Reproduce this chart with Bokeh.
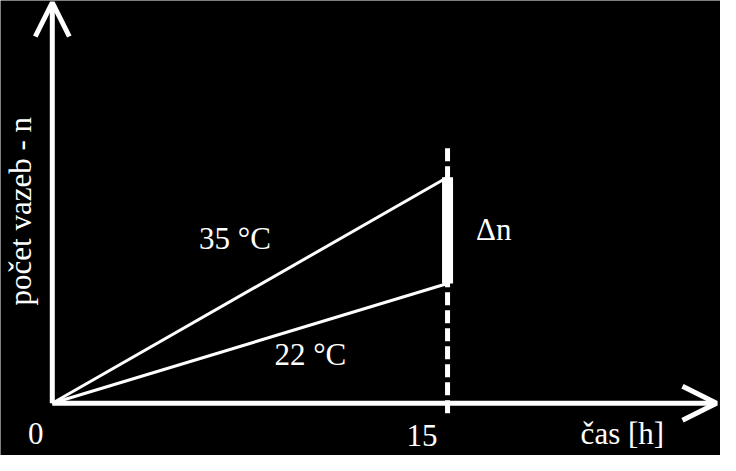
# -*- coding: utf-8 -*-

import numpy as np
from bokeh.plotting import figure
from bokeh.models import Range1d, Arrow, OpenHead
from bokeh.core.properties import value
from bokeh.embed import file_html
from bokeh.resources import INLINE

# data (n in arbitrary units)
time_h = [0, 15]
n_35 = [0, 10.0]
n_22 = [0, 5.3]
t_mark = 15
series_labels = ["35 °C", "22 °C"]
x_ticks = [0, 15]
x_title = "čas [h]"
y_title = "počet vazeb - n"
delta_label = "Δn"

# layout: pixel scale of the frame
W, H = 720, 455
x0_px, y0_px = 51.8, 52.2      # origin, from left / bottom
px_h = 26.35                   # pixels per hour
px_n = 22.6                    # pixels per unit of n

FONT = value("Liberation Serif")
FS = "31px"
WHITE = "white"

p = figure(width=W, height=H, output_backend="svg", toolbar_location=None,
           x_range=Range1d(-x0_px / px_h, (W - x0_px) / px_h),
           y_range=Range1d(-y0_px / px_n, (H - y0_px) / px_n),
           min_border=0, background_fill_color="black",
           border_fill_color="black", outline_line_color=None)
p.axis.visible = False
p.grid.grid_line_color = None

# axes with open arrow heads
x_end = p.x_range.end - 4 / px_h
y_end = p.y_range.end - 2 / px_n
p.add_layout(Arrow(end=OpenHead(size=34, line_width=5, line_color=WHITE),
                   x_start=0, y_start=0, x_end=x_end, y_end=0,
                   line_width=5, line_color=WHITE))
p.add_layout(Arrow(end=OpenHead(size=34, line_width=5, line_color=WHITE),
                   x_start=0, y_start=0, x_end=0, y_end=y_end,
                   line_width=5, line_color=WHITE))

# dashed marker at t = 15 h
p.segment(x0=[t_mark], y0=[n_35[-1] + 29 / px_n], x1=[t_mark], y1=[-13 / px_n],
          line_color=WHITE, line_width=5, line_dash="13 5")

# the two temperature lines
p.line(time_h, n_35, line_color=WHITE, line_width=3)
p.line(time_h, n_22, line_color=WHITE, line_width=3)

# thick bar showing the difference
p.segment(x0=[t_mark], y0=[n_22[-1]], x1=[t_mark], y1=[n_35[-1]],
          line_color=WHITE, line_width=11, line_cap="butt")

txt = dict(text_color=WHITE, text_font=FONT, text_font_size=FS,
           text_baseline="alphabetic")

p.text(x=[5.57], y=[7.28], text=[series_labels[0]], text_align="left", **txt)
p.text(x=[8.43], y=[2.15], text=[series_labels[1]], text_align="left", **txt)
p.text(x=[16.08], y=[7.71], text=[delta_label], text_align="left", **txt)

# tick labels and titles
p.text(x=[x_ticks[0] - 0.63, x_ticks[1] - 0.97], y=[-1.35, -1.44],
       text=[str(t) for t in x_ticks], text_align="center", **txt)
p.text(x=[20.05], y=[-1.35], text=[x_title], text_align="left", **txt)
p.text(x=[-1.19], y=[8.5], text=[y_title], angle=np.pi / 2,
       text_align="center", text_baseline="middle", text_color=WHITE,
       text_font=FONT, text_font_size=FS)

open("out.html", "w").write(file_html(p, INLINE))
